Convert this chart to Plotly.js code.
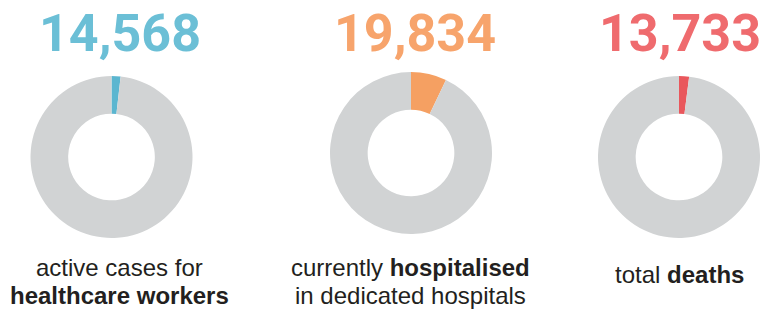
<!DOCTYPE html>
<html>
<head>
<meta charset="utf-8">
<script src="https://cdn.plot.ly/plotly-3.0.1.min.js"></script>
<style>
  html, body { margin: 0; padding: 0; background: #ffffff; }
  #chart { width: 762px; height: 310px; }
</style>
</head>
<body>
<div id="chart"></div>
<script>
// ---- data ----
const counts = [14568, 19834, 13733];
const sharePct = [1.8, 7.1, 2.0];          // highlighted slice share (%) read from the donuts
const labelLine1 = ['active cases for', 'currently <b>hospitalised</b>', 'total <b>deaths</b>'];
const labelLine2 = ['<b>healthcare workers</b>', 'in dedicated hospitals', ''];

// ---- styles ----
const accent = ['#5bb6d0', '#f5a062', '#e9575c'];
const numColor = ['#6bbfd6', '#f7a46c', '#ef6b6e'];
const grey = '#d1d3d4';
const W = 762, H = 310;
// donut centres / radius in pixels
const cx = [111.5, 411, 679];
const cy = [157, 153, 157];
const R = 81;
const numX = [119.5, 415, 680];
const labX = [119, 410.5, 679];

const px = x => x / W;
const py = y => 1 - y / H;

const data = counts.map((c, i) => ({
  type: 'pie',
  values: [sharePct[i], 100 - sharePct[i]],
  labels: ['share', 'rest'],
  hole: 0.535,
  sort: false,
  direction: 'clockwise',
  rotation: 0,
  textinfo: 'none',
  hoverinfo: 'none',
  showlegend: false,
  marker: { colors: [accent[i], grey], line: { width: 0 } },
  domain: { x: [px(cx[i] - R), px(cx[i] + R)], y: [py(cy[i] + R), py(cy[i] - R)] }
}));

const annotations = [];
counts.forEach((c, i) => {
  annotations.push({
    x: px(numX[i]), y: py(33), xref: 'paper', yref: 'paper',
    xanchor: 'center', yanchor: 'middle', showarrow: false,
    text: '<b>' + c.toLocaleString('en-US') + '</b>',
    font: { family: 'Roboto, Liberation Sans, Arial, sans-serif', size: 52, color: numColor[i] }
  });
});
const labFont = { family: 'Liberation Sans, Arial, sans-serif', size: 24, color: '#231f20' };
const lineY1 = [267.5, 267.5, 274.5];
const lineY2 = [295.5, 295.5, 295.5];
labelLine1.forEach((t, i) => {
  annotations.push({
    x: px(labX[i]), y: py(lineY1[i]), xref: 'paper', yref: 'paper',
    xanchor: 'center', yanchor: 'middle', showarrow: false, text: t, font: labFont
  });
  if (labelLine2[i]) {
    annotations.push({
      x: px(labX[i]), y: py(lineY2[i]), xref: 'paper', yref: 'paper',
      xanchor: 'center', yanchor: 'middle', showarrow: false, text: labelLine2[i], font: labFont
    });
  }
});

const layout = {
  width: W, height: H,
  margin: { l: 0, r: 0, t: 0, b: 0 },
  paper_bgcolor: '#ffffff',
  plot_bgcolor: '#ffffff',
  showlegend: false,
  annotations: annotations
};

Plotly.newPlot('chart', data, layout, { displayModeBar: false, staticPlot: true });
</script>
</body>
</html>
